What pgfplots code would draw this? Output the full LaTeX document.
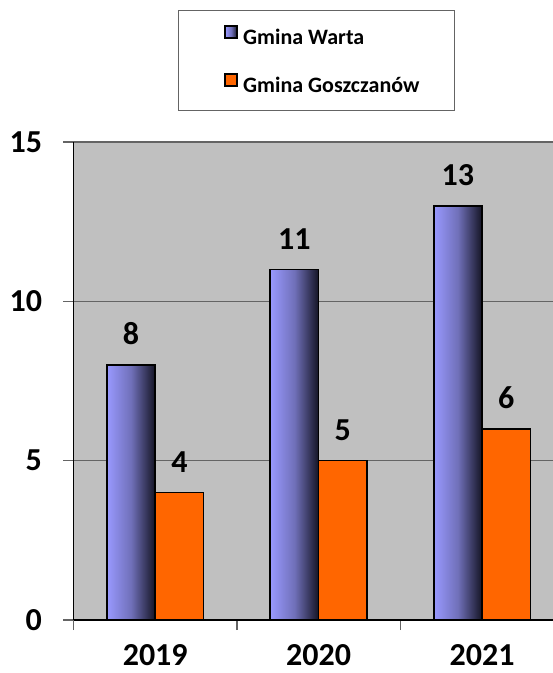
\documentclass[border=0pt]{standalone}
\usepackage{fontspec}
\setmainfont{Carlito}
\usepackage{pgfplots}
\pgfplotsset{compat=1.18}
\definecolor{bg}{RGB}{192,192,192}
\definecolor{gridc}{RGB}{100,100,100}
\definecolor{orng}{RGB}{255,102,0}
\definecolor{bA}{RGB}{153,153,255}
\definecolor{bB}{RGB}{112,112,185}
\definecolor{bC}{RGB}{20,20,36}
\pgfdeclarehorizontalshading{barshade}{100bp}{color(0bp)=(bA); color(25bp)=(bA); color(50bp)=(bB); color(75bp)=(bC); color(100bp)=(bC)}
\begin{document}
\begin{tikzpicture}
\useasboundingbox (0,0) rectangle (553pt,673pt);
\begin{axis}[
  at={(73.5pt,53pt)}, anchor=south west,
  scale only axis, width=479.5pt, height=478pt,
  xmin=-0.5, xmax=2.434, ymin=0, ymax=15,
  ybar=0pt, bar width=0.296,
  axis background/.style={fill=bg},
  axis x line*=bottom, axis y line*=left,
  axis line style={black, line width=1.4pt},
  /pgf/number format/assume math mode=true,
  ytick={0,5,10,15},
  xtick={0,1,2}, xticklabels={2019,2020,2021},
  minor xtick={-0.5,0.5,1.5,2.5},
  major x tick style={draw=none},
  minor x tick style={gridc, line width=1.2pt},
  ytick style={gridc, line width=1.2pt},
  tick align=outside, major tick length=10pt, minor tick length=10pt,
  ymajorgrids, grid style={gridc, line width=1.2pt},
  ticklabel style={font=\bfseries\fontsize{32}{32}\selectfont},
  xticklabel style={inner sep=0pt, yshift=-14pt},
  yticklabel style={xshift=-18pt},
  nodes near coords,
  nodes near coords style={font=\bfseries\fontsize{32}{32}\selectfont, yshift=16pt, text=black},
  legend style={at={(0.3139,1.2458)}, anchor=north west, draw=none, fill=none,
    inner sep=0pt, row sep=27pt, column sep=5pt,
    font=\bfseries\fontsize{22}{22}\selectfont,
    nodes={inner sep=0pt, text height=15pt, text depth=2pt}},
  legend cell align=left,
]
\addplot[draw=black, line width=1.6pt, shading=barshade, bar shift=-0.148,
  legend image code/.code={\draw[shading=barshade, draw=black, line width=2pt] (0pt,0pt) rectangle (12pt,12pt);}]
  coordinates {(0,8)};
\addplot[draw=black, line width=1.6pt, fill=orng, bar shift=0.148,
  legend image code/.code={\draw[fill=orng, draw=black, line width=2pt] (0pt,0pt) rectangle (12pt,12pt);}]
  coordinates {(0,4) (1,5) (2,6)};
\addplot[draw=black, line width=1.6pt, shading=barshade, bar shift=-0.148, forget plot]
  coordinates {(1,11)};
\addplot[draw=black, line width=1.6pt, shading=barshade, bar shift=-0.148, forget plot]
  coordinates {(2,13)};
\legend{Gmina Warta, Gmina Goszczanów}
\end{axis}
\draw[gridc, line width=1pt] (178pt,562pt) rectangle (454pt,662pt);
\end{tikzpicture}
\end{document}
